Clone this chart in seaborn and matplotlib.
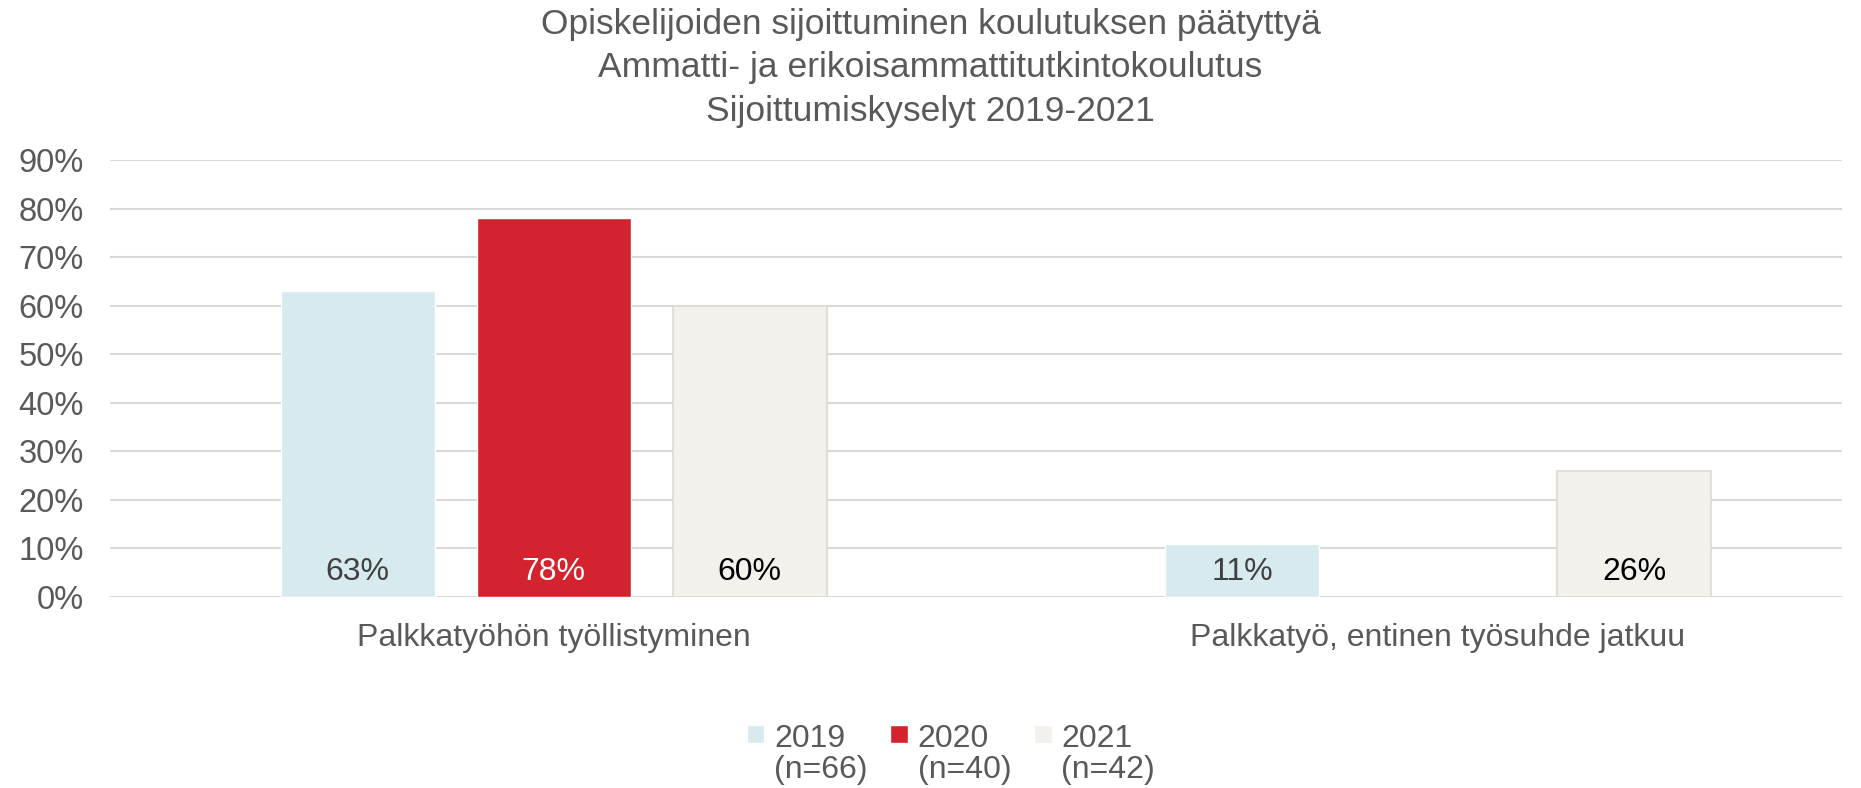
import numpy as np
import pandas as pd
import seaborn as sns
import matplotlib.pyplot as plt
from matplotlib.patches import Rectangle
from matplotlib.legend_handler import HandlerPatch

# Data
categories = ["Palkkatyöhön työllistyminen", "Palkkatyö, entinen työsuhde jatkuu"]
years = ["2019", "2020", "2021"]
year_labels = ["2019\n(n=66)", "2020\n(n=40)", "2021\n(n=42)"]
values_2019 = [0.63, 0.11]
values_2020 = [0.78, np.nan]
values_2021 = [0.60, 0.26]
y_ticks = [0, 0.1, 0.2, 0.3, 0.4, 0.5, 0.6, 0.7, 0.8, 0.9]
title_lines = ["Opiskelijoiden sijoittuminen koulutuksen päätyttyä",
               "Ammatti- ja erikoisammattitutkintokoulutus",
               "Sijoittumiskyselyt 2019-2021"]

colors = {"2019": "#d7ebef", "2020": "#d2232f", "2021": "#f2f1ec"}
label_colors = ["#404040", "#ffffff", "#000000"]
text_gray = "#595959"

rows = []
for year, vals in zip(years, [values_2019, values_2020, values_2021]):
    for cat, v in zip(categories, vals):
        if not np.isnan(v):
            rows.append({"category": cat, "year": year, "value": v})
df = pd.DataFrame(rows)

sns.set_theme(style="white")
plt.rcParams['font.family'] = ['Liberation Sans', 'DejaVu Sans']

fig = plt.figure(figsize=(18.61, 7.88), dpi=100)
ax = fig.add_axes([0.0591, 0.2424, 0.9307, 0.5546])

sns.barplot(data=df, x="category", y="value", hue="year",
            order=categories, hue_order=years, palette=colors, saturation=1,
            width=0.665, gap=0.215, errorbar=None, ax=ax, legend=True)

# border on the pale 2021 bars
for p in ax.containers[2]:
    p.set_edgecolor("#dedcce")
    p.set_linewidth(1.2)

# value labels near the bar base
for cont, col in zip(ax.containers, label_colors):
    for p in cont:
        h = p.get_height()
        if np.isnan(h) or h == 0:
            continue
        ax.text(p.get_x() + p.get_width() / 2, 0.052, f"{h:.0%}",
                ha="center", va="center", fontsize=23, color=col)

ax.set_ylim(0, 0.9)
ax.set_xlim(-0.502, 1.457)
ax.set_yticks(y_ticks)
ax.set_yticklabels([f"{int(round(t * 100))}%" for t in y_ticks])
ax.yaxis.grid(True, color="#d9d9d9", linewidth=1.5)
ax.set_axisbelow(True)
for s in ax.spines.values():
    s.set_visible(False)
ax.tick_params(axis="y", labelsize=23.5, labelcolor=text_gray, length=0, pad=19)
ax.tick_params(axis="x", labelsize=23, labelcolor=text_gray, length=0, pad=18.5)
ax.set_xlabel("")
ax.set_ylabel("")

fig.text(0.5, 0.99, "\n".join(title_lines), ha="center", va="top",
         fontsize=25.5, color=text_gray, linespacing=1.4)


def square(legend, orig_handle, xdescent, ydescent, width, height, fontsize):
    side = fontsize * 0.55
    return Rectangle((-xdescent, -ydescent + height + fontsize * 0.04), side, side)


handles, _ = ax.get_legend_handles_labels()
ax.get_legend().remove()
leg = fig.legend(handles, year_labels, loc="center", bbox_to_anchor=(0.511, 0.042),
                 ncol=3, frameon=False, fontsize=23, handlelength=0.55,
                 handletextpad=0.3, columnspacing=0.72,
                 handler_map={Rectangle: HandlerPatch(patch_func=square)})
for t in leg.get_texts():
    t.set_color(text_gray)
    t.set_linespacing(1.05)

fig.savefig("out.png", dpi=100)
